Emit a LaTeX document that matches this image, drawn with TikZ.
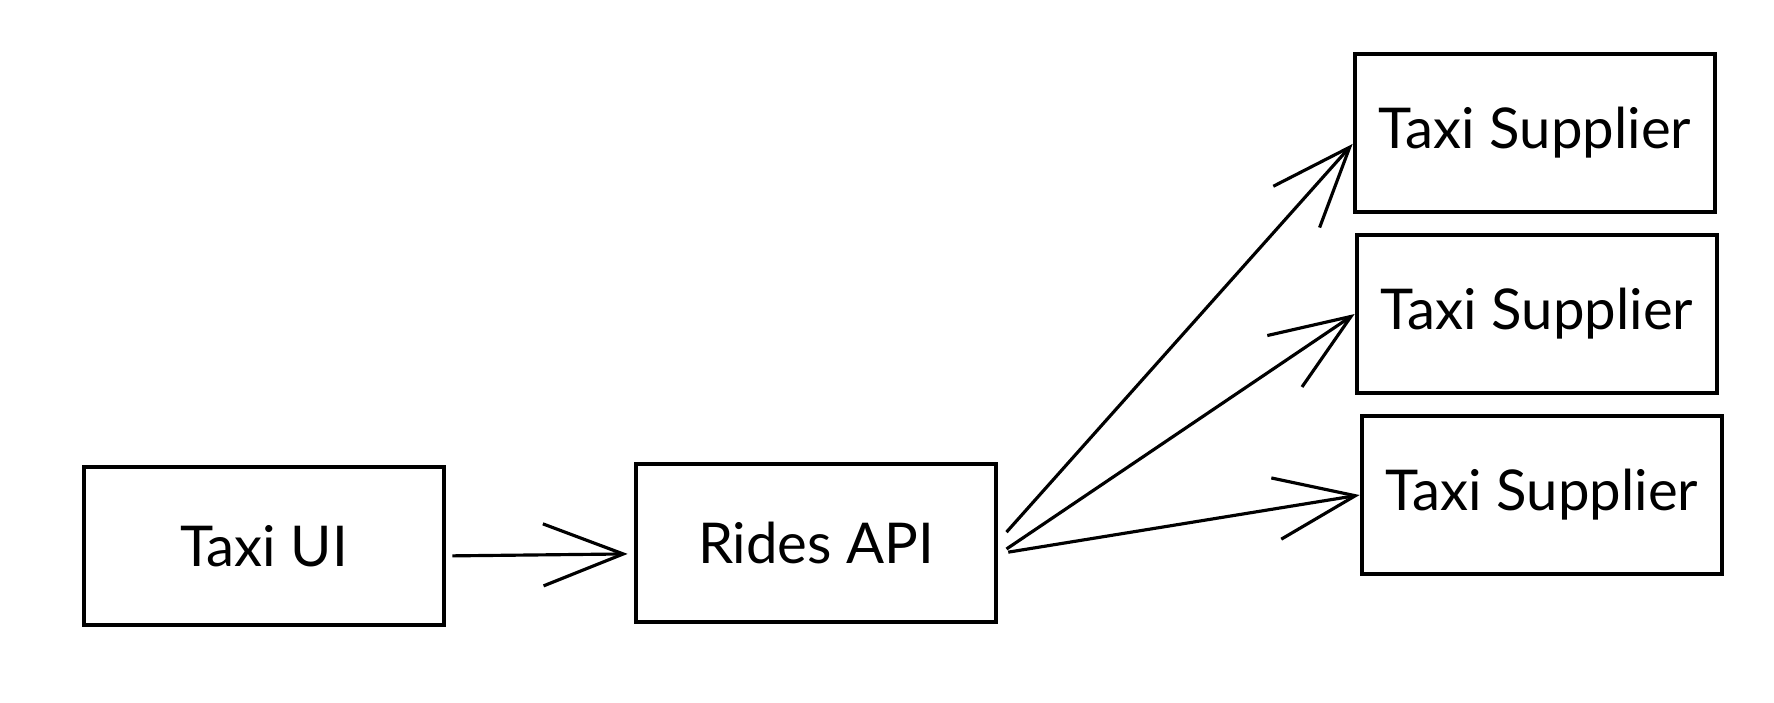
\documentclass[tikz,border=0pt]{standalone}
\usepackage{fontspec}
\setmainfont{Lato}
\usetikzlibrary{arrows.meta}

\tikzset{
  box/.style={draw, line width=1.3pt, minimum width=3.6cm, minimum height=1.58cm, inner sep=0pt, font=\fontsize{16}{19}\selectfont},
  arr/.style={line width=0.9pt, -{Straight Barb[length=8mm, width=6.2mm, line width=0.9pt]}}
}

\begin{document}
\begin{tikzpicture}[x=0.01cm, y=-0.01cm]
\useasboundingbox (0,0) rectangle (1774,702);
\node[box] (ui) at (264,546) {Taxi UI};
\node[box] (api) at (816,543) {Rides API};
\node[box] (s1) at (1535,133) {Taxi Supplier};
\node[box] (s2) at (1537,314) {Taxi Supplier};
\node[box] (s3) at (1542,495) {Taxi Supplier};
\draw[arr] ([xshift=1.7pt,yshift=-2.8pt]ui.east) -- ([xshift=-1.7pt,yshift=-3.1pt]api.west);
\draw[arr] ([xshift=2.3pt,yshift=3.1pt]api.east) -- ([yshift=-3.1pt]s1.west);
\draw[arr] ([xshift=2.3pt,yshift=-1.7pt]api.east) -- (s2.west);
\draw[arr] ([xshift=2.8pt,yshift=-2.6pt]api.east) -- (s3.west);
\end{tikzpicture}
\end{document}
